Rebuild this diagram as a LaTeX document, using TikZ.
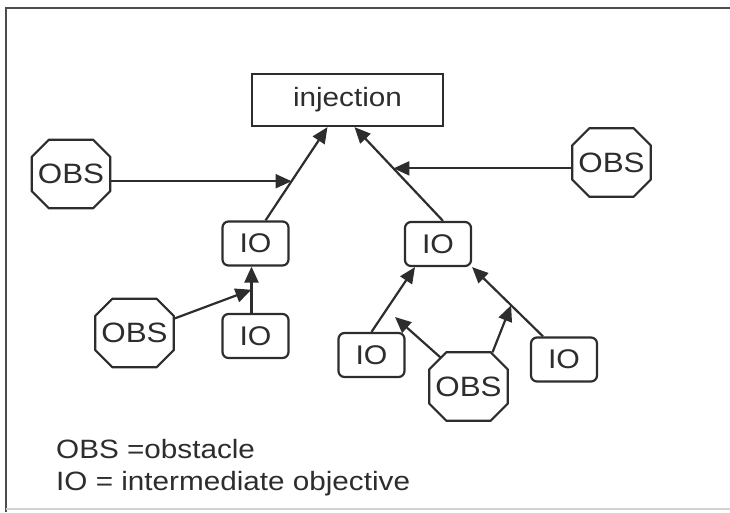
\documentclass[tikz,border=0pt]{standalone}
\usepackage{fontspec}
\setmainfont{Liberation Sans}[FakeStretch=1.12]
\usetikzlibrary{arrows.meta,calc}
\definecolor{ink}{RGB}{45,45,45}
\begin{document}
\begin{tikzpicture}[x=1pt,y=-1pt,
  every node/.style={text=ink},
  obs/.style={minimum width=78pt, minimum height=68pt, inner sep=0pt,
    font=\fontsize{28}{32}\selectfont},
  octline/.style={draw=ink, line width=2.2pt, line join=round},
  io/.style={draw=ink, line width=2.2pt, rounded corners=6pt,
    minimum width=66pt, minimum height=44pt, inner sep=0pt,
    font=\fontsize{27}{32}\selectfont},
  goal/.style={draw=ink, line width=2.2pt, minimum width=191pt,
    minimum height=52pt, inner sep=0pt, font=\fontsize{26.5}{32}\selectfont},
  key/.style={anchor=base west, inner sep=0pt, font=\fontsize{26.5}{32}\selectfont},
  link/.style={draw=ink, line width=2.2pt, -{Triangle[length=16pt,width=14pt]}},
  frame/.style={draw=ink!85, line width=2pt}
]
\useasboundingbox (0,0) rectangle (730,512);

% octagon outline drawn around a (borderless) node
\newcommand\octagonframe[1]{%
  \draw[octline] ([xshift=17pt]#1.north west) -- ([xshift=-17pt]#1.north east)
    -- ([yshift=-17pt]#1.north east) -- ([yshift=17pt]#1.south east)
    -- ([xshift=-17pt]#1.south east) -- ([xshift=17pt]#1.south west)
    -- ([yshift=17pt]#1.south west) -- ([yshift=-17pt]#1.north west) -- cycle;}

% outer frame
\draw[frame] (730,8) -- (6,8) -- (6,512);
\draw[gray!35, line width=1.2pt] (6,509) -- (730,509);

% nodes
\node[goal] (inj) at (347.5,100) {injection};
\node[obs] (obsL) at (71,174) {OBS};
\node[obs] (obsR) at (611.5,162.5) {OBS};
\node[io] (ioL) at (255.5,243.5) {IO};
\node[io] (ioR) at (438,244) {IO};
\node[io] (ioBL) at (255.5,336) {IO};
\node[obs] (obsBL) at (134.5,333) {OBS};
\node[io] (ioBM) at (371.5,355) {IO};
\node[obs] (obsB) at (468.5,386.5) {OBS};
\node[io] (ioBR) at (564,359.5) {IO};
\octagonframe{obsL}
\octagonframe{obsR}
\octagonframe{obsBL}
\octagonframe{obsB}

% legend
\node[key] (keyObs) at (56,458) {OBS =obstacle};
\node[key] (keyIO) at (56,490) {IO = intermediate objective};

% left branch
\coordinate (aL) at ([xshift=10pt]ioL.north);
\coordinate (bL) at ([xshift=-20pt]inj.south);
\draw[link] (aL) -- (bL);
\coordinate (tL) at ($(aL)!0.42!(bL)$);
\draw[link] (obsL.east |- tL) -- (tL);

% right branch
\coordinate (aR) at ([xshift=5pt]ioR.north);
\coordinate (bR) at ([xshift=7pt]inj.south);
\draw[link] (aR) -- (bR);
\coordinate (tR) at ($(aR)!0.56!(bR)$);
\draw[link] (obsR.west |- tR) -- (tR);

% lower left
\coordinate (aBL) at ([xshift=-4pt]ioBL.north);
\coordinate (bBL) at ([xshift=-4pt]ioL.south);
\draw[link] (aBL) -- (bBL);
\coordinate (tBL) at ($(aBL)!0.5!(bBL)$);
\draw[link] ([yshift=-20pt]obsBL.north east) -- (tBL);

% lower right
\draw[link] (ioBM.north) -- ([xshift=-23pt]ioR.south);
\coordinate (aN) at ([xshift=-21pt]ioBR.north);
\draw[link] (aN) -- (ioR.south east);
\coordinate (tN) at ($(aN)!0.45!(ioR.south east)$);
\draw[link] ([xshift=24pt]obsB.north) -- (tN);
\coordinate (tM) at (395,317);
\draw[link] ([xshift=11pt,yshift=-5pt]obsB.north west) -- (tM);
\end{tikzpicture}
\end{document}
